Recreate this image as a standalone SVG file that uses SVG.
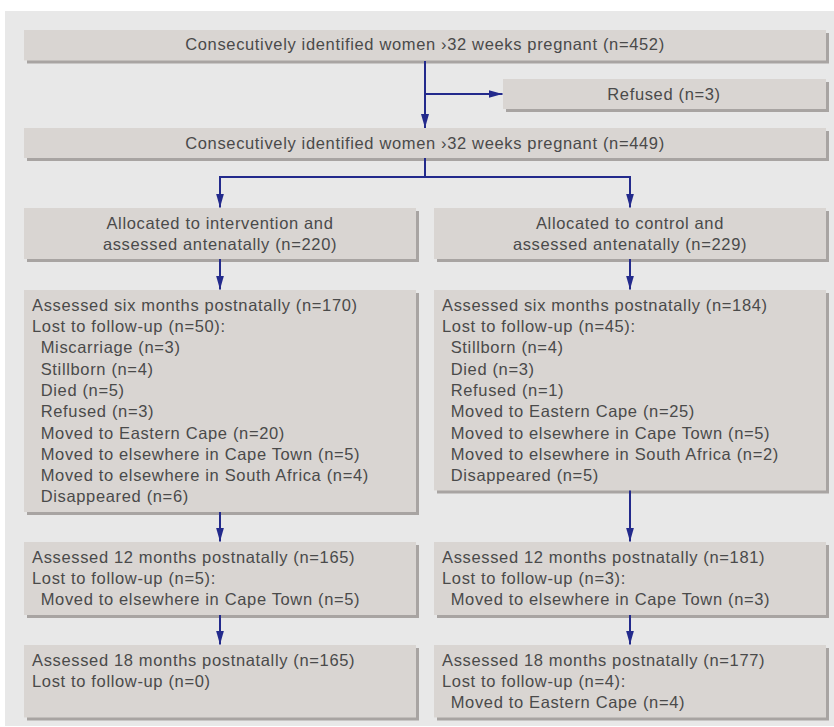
<svg xmlns="http://www.w3.org/2000/svg" width="834" height="727" viewBox="0 0 834 727">
<defs>
<style>
.bg{fill:#e8e8e8}
.box{fill:#d9d5d2}
.sh{fill:#a8a4a2}
.t{font-family:"Liberation Sans",Arial,sans-serif;font-size:16.5px;letter-spacing:0.65px;fill:#4a4a4a}
.c{text-anchor:middle}
.ln{stroke:#232a8c;stroke-width:2;fill:none}
</style>
<marker id="ah" viewBox="0 0 14 8" refX="14" refY="4" markerWidth="14" markerHeight="8" markerUnits="userSpaceOnUse" orient="auto">
<path d="M0,0 L14,4 L0,8 Z" fill="#232a8c"/>
</marker>
</defs>
<rect class="bg" x="5" y="11" width="829" height="715"/>

<g id="n_452">
<rect class="sh" x="27" y="33" width="802" height="30.5"/>
<rect class="box" x="24" y="30" width="802" height="30.5"/>
<text class="t c" x="425" y="50">Consecutively identified women ›32 weeks pregnant (n=452)</text>
</g>
<g id="n_refused">
<rect class="sh" x="506" y="82" width="323" height="30"/>
<rect class="box" x="503" y="79" width="323" height="30"/>
<text class="t c" x="664" y="100">Refused (n=3)</text>
</g>
<g id="n_449">
<rect class="sh" x="27" y="131" width="802" height="30"/>
<rect class="box" x="24" y="128" width="802" height="30"/>
<text class="t c" x="425" y="149">Consecutively identified women ›32 weeks pregnant (n=449)</text>
</g>
<g id="n_int">
<rect class="sh" x="27" y="211" width="392" height="51"/>
<rect class="box" x="24" y="208" width="392" height="51"/>
<text class="t c" x="220" y="228.5">Allocated to intervention and</text>
<text class="t c" x="220" y="250">assessed antenatally (n=220)</text>
</g>
<g id="n_ctl">
<rect class="sh" x="437" y="211" width="392" height="51"/>
<rect class="box" x="434" y="208" width="392" height="51"/>
<text class="t c" x="630" y="228.5">Allocated to control and</text>
<text class="t c" x="630" y="250">assessed antenatally (n=229)</text>
</g>
<g id="n_int6">
<rect class="sh" x="27" y="293" width="392" height="222"/>
<rect class="box" x="24" y="290" width="392" height="222"/>
<text class="t" x="32" y="310.7">Assessed six months postnatally (n=170)</text>
<text class="t" x="32" y="332">Lost to follow-up (n=50):</text>
<text class="t" x="40.7" y="353.3">Miscarriage (n=3)</text>
<text class="t" x="40.7" y="374.6">Stillborn (n=4)</text>
<text class="t" x="40.7" y="395.9">Died (n=5)</text>
<text class="t" x="40.7" y="417.2">Refused (n=3)</text>
<text class="t" x="40.7" y="438.5">Moved to Eastern Cape (n=20)</text>
<text class="t" x="40.7" y="459.8">Moved to elsewhere in Cape Town (n=5)</text>
<text class="t" x="40.7" y="481.1">Moved to elsewhere in South Africa (n=4)</text>
<text class="t" x="40.7" y="502.4">Disappeared (n=6)</text>
</g>
<g id="n_ctl6">
<rect class="sh" x="437" y="293" width="392" height="200.5"/>
<rect class="box" x="434" y="290" width="392" height="200.5"/>
<text class="t" x="442" y="310.7">Assessed six months postnatally (n=184)</text>
<text class="t" x="442" y="332">Lost to follow-up (n=45):</text>
<text class="t" x="450.7" y="353.3">Stillborn (n=4)</text>
<text class="t" x="450.7" y="374.6">Died (n=3)</text>
<text class="t" x="450.7" y="395.9">Refused (n=1)</text>
<text class="t" x="450.7" y="417.2">Moved to Eastern Cape (n=25)</text>
<text class="t" x="450.7" y="438.5">Moved to elsewhere in Cape Town (n=5)</text>
<text class="t" x="450.7" y="459.8">Moved to elsewhere in South Africa (n=2)</text>
<text class="t" x="450.7" y="481.1">Disappeared (n=5)</text>
</g>
<g id="n_int12">
<rect class="sh" x="27" y="545" width="392" height="73"/>
<rect class="box" x="24" y="542" width="392" height="73"/>
<text class="t" x="32" y="562.7">Assessed 12 months postnatally (n=165)</text>
<text class="t" x="32" y="584">Lost to follow-up (n=5):</text>
<text class="t" x="40.7" y="605.3">Moved to elsewhere in Cape Town (n=5)</text>
</g>
<g id="n_ctl12">
<rect class="sh" x="437" y="545" width="392" height="73"/>
<rect class="box" x="434" y="542" width="392" height="73"/>
<text class="t" x="442" y="562.7">Assessed 12 months postnatally (n=181)</text>
<text class="t" x="442" y="584">Lost to follow-up (n=3):</text>
<text class="t" x="450.7" y="605.3">Moved to elsewhere in Cape Town (n=3)</text>
</g>
<g id="n_int18">
<rect class="sh" x="27" y="648" width="392" height="72.5"/>
<rect class="box" x="24" y="645" width="392" height="72.5"/>
<text class="t" x="32" y="665.7">Assessed 18 months postnatally (n=165)</text>
<text class="t" x="32" y="687">Lost to follow-up (n=0)</text>
</g>
<g id="n_ctl18">
<rect class="sh" x="437" y="648" width="392" height="72.5"/>
<rect class="box" x="434" y="645" width="392" height="72.5"/>
<text class="t" x="442" y="665.7">Assessed 18 months postnatally (n=177)</text>
<text class="t" x="442" y="687">Lost to follow-up (n=4):</text>
<text class="t" x="450.7" y="708.3">Moved to Eastern Cape (n=4)</text>
</g>

<g id="connectors">
<path class="ln" d="M425,61 V128" marker-end="url(#ah)"/>
<path class="ln" d="M425,94 H502.5" marker-end="url(#ah)"/>
<path class="ln" d="M425,158 V177 M220,177 H630"/>
<path class="ln" d="M220,176 V207.5" marker-end="url(#ah)"/>
<path class="ln" d="M630,176 V207.5" marker-end="url(#ah)"/>
<path class="ln" d="M220,259 V289.5" marker-end="url(#ah)"/>
<path class="ln" d="M630,259 V289.5" marker-end="url(#ah)"/>
<path class="ln" d="M220,512 V541.5" marker-end="url(#ah)"/>
<path class="ln" d="M630,490.5 V541.5" marker-end="url(#ah)"/>
<path class="ln" d="M220,615 V644.5" marker-end="url(#ah)"/>
<path class="ln" d="M630,615 V644.5" marker-end="url(#ah)"/>
</g>
</svg>
